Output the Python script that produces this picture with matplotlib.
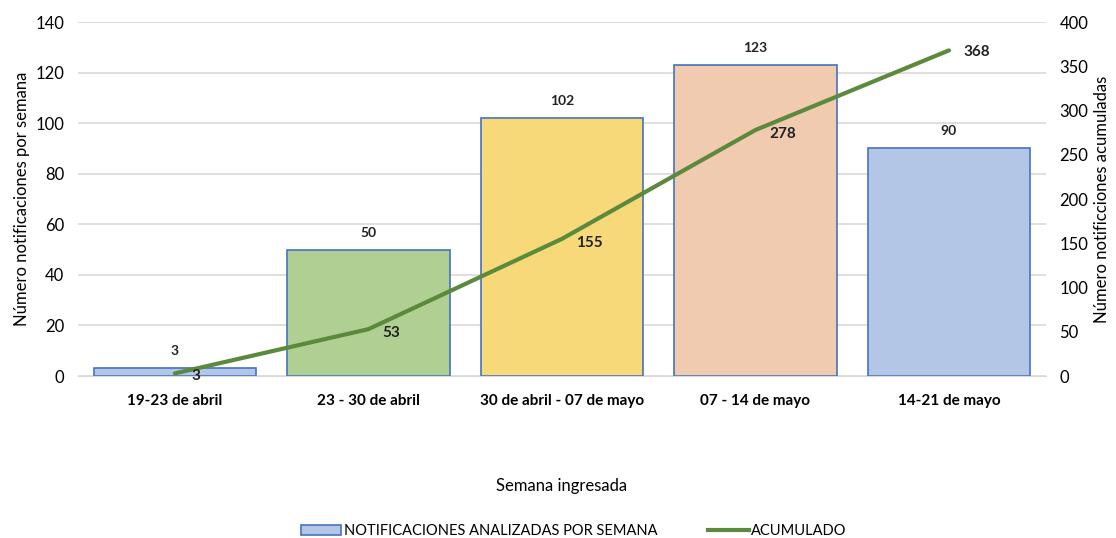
import matplotlib
matplotlib.use("Agg")
import matplotlib.pyplot as plt
from matplotlib.patches import Patch
from matplotlib.lines import Line2D

categories = ["19-23 de abril", "23 - 30 de abril", "30 de abril - 07 de mayo", "07 - 14 de mayo", "14-21 de mayo"]
weekly = [3, 50, 102, 123, 90]
cumulative = [3, 53, 155, 278, 368]
left_ticks = [0, 20, 40, 60, 80, 100, 120, 140]
right_ticks = [0, 50, 100, 150, 200, 250, 300, 350, 400]

bar_colors = ["#b4c6e5", "#b0cf93", "#f7d97a", "#f1cbb0", "#b4c6e5"]
edge = "#4472c4"
line_color = "#5b8a3c"

plt.rcParams['font.family'] = ['Lato', 'DejaVu Sans']

fig = plt.figure(figsize=(11.16, 5.38), dpi=100)
ax = fig.add_axes([0.070, 0.301, 0.867, 0.658])
ax2 = ax.twinx()

x = list(range(len(categories)))
ax.bar(x, weekly, width=0.84, color=bar_colors, edgecolor=edge, linewidth=1.2, zorder=2)
for xi, v in zip(x, weekly):
    ax.annotate(str(v), (xi, v), xytext=(0, 8), textcoords="offset points",
                ha="center", va="bottom", fontsize=10, fontweight="bold", color="#222222")

ax.set_ylim(0, 140)
ax.set_yticks(left_ticks)
ax.set_xlim(-0.5, len(categories) - 0.5)
ax.set_xticks(x)
ax.set_xticklabels(categories, fontsize=11, fontweight="bold")
ax.tick_params(axis="x", length=0, pad=13)
ax.tick_params(axis="y", length=0, labelsize=12, pad=10)
ax.grid(axis="y", color="#d9d9d9", linewidth=1.2, zorder=0)
ax.set_axisbelow(True)
for s in ax.spines.values():
    s.set_visible(False)
ax.spines["bottom"].set_visible(True)
ax.spines["bottom"].set_color("#d9d9d9")
ax.set_ylabel("Número notificaciones por semana", fontsize=12)
ax.set_xlabel("Semana ingresada", fontsize=12, labelpad=50)

ax2.plot(x, cumulative, color=line_color, linewidth=3, solid_capstyle="round", zorder=3)
ax2.set_ylim(0, 400)
ax2.set_yticks(right_ticks)
ax2.tick_params(axis="y", length=0, labelsize=12, pad=10)
for s in ax2.spines.values():
    s.set_visible(False)
ax2.set_ylabel("Número notificciones acumuladas", fontsize=12)
offsets = [(15, -2), (16.5, -3), (20, -3), (20, -3), (20, -1)]
for xi, v, off in zip(x, cumulative, offsets):
    ax2.annotate(str(v), (xi, v), xytext=off, textcoords="offset points",
                 ha="center", va="center", fontsize=11, fontweight="bold", color="#222222")

handles = [Patch(facecolor="#b4c6e5", edgecolor=edge, linewidth=1.2),
           Line2D([0], [0], color=line_color, linewidth=3)]
fig.legend(handles, ["NOTIFICACIONES ANALIZADAS POR SEMANA", "ACUMULADO"],
           loc="lower center", bbox_to_anchor=(0.514, -0.025), ncol=2, frameon=False,
           fontsize=10.5, handlelength=2.8, handletextpad=0.15, columnspacing=3.5)

fig.savefig("out.png", dpi=100)
